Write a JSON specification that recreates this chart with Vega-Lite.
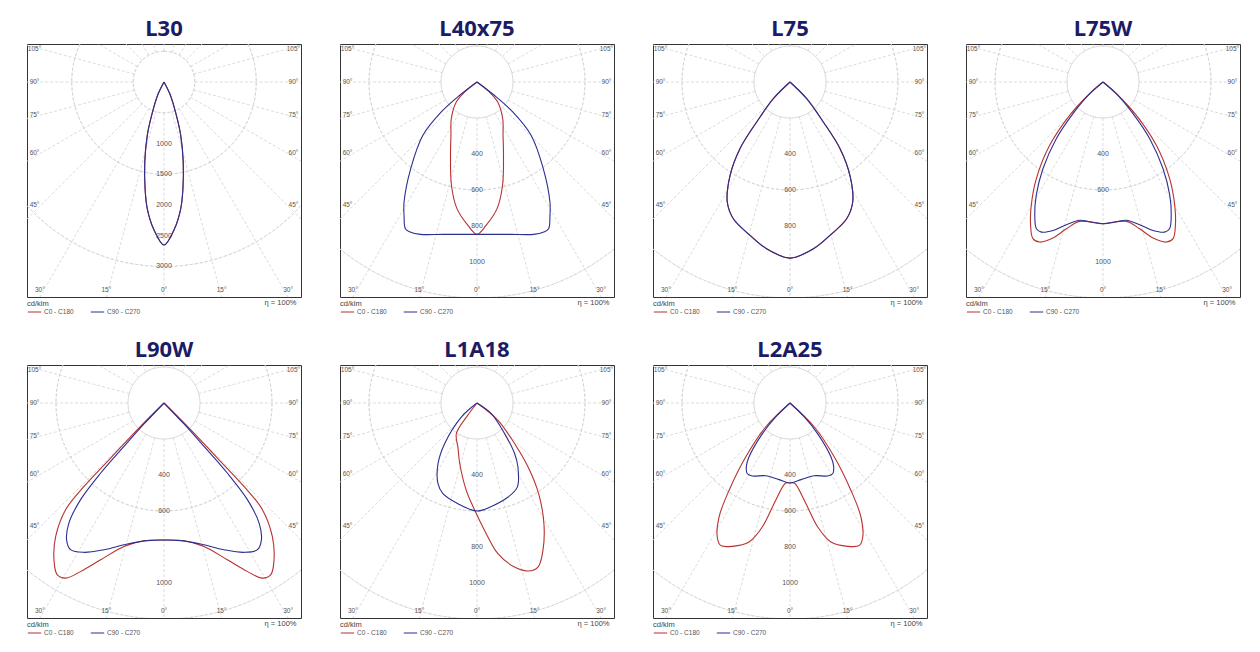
{
  "$schema": "https://vega.github.io/schema/vega-lite/v6.json",
  "background": "white",
  "padding": {"left": 26, "top": 17, "right": 5, "bottom": 5},
  "config": {
    "font": "Liberation Sans",
    "view": {"stroke": "#333", "strokeWidth": 1},
    "title": {"font": "Noto Sans", "fontSize": 22, "fontWeight": "bold", "color": "#1b1b66", "offset": 3},
    "axis": {"labels": false, "ticks": false, "domain": true, "domainOpacity": 0, "grid": false, "titleFontSize": 7.5, "titleFontWeight": "normal", "titleColor": "#444", "titleAnchor": "end", "titlePadding": 1, "titleX": 269},
    "legend": {"orient": "bottom", "direction": "horizontal", "titleFontSize": 7.5, "titleFontWeight": "normal", "titleColor": "#444", "labelFontSize": 6.5, "labelColor": "#555", "symbolType": "stroke", "symbolSize": 180, "symbolStrokeWidth": 1, "columnPadding": 14, "padding": 0, "offset": -6, "titlePadding": -3, "rowPadding": 0, "labelOffset": 2}
  },
  "datasets": {
    "curves": [
      {"p": "L30", "c": "C0 - C180", "g": [-90, -26, -21, -17.5, -13.5, -10, -7.5, -4, 0, 4, 7.5, 10, 13.5, 17.5, 21, 26, 90], "v": [0, 230, 520, 900, 1340, 1770, 2080, 2400, 2650, 2400, 2080, 1770, 1340, 900, 520, 230, 0]},
      {"p": "L30", "c": "C90 - C270", "g": [-90, -26, -21, -17.5, -13.5, -10, -7.5, -4, 0, 4, 7.5, 10, 13.5, 17.5, 21, 26, 90], "v": [0, 230, 520, 900, 1340, 1770, 2080, 2400, 2650, 2400, 2080, 1770, 1340, 900, 520, 230, 0]},
      {"p": "L40x75", "c": "C0 - C180", "g": [-90, -51, -46, -35, -26, -20.7, -13.9, -9, -3.6, 0, 3.6, 9, 13.9, 20.7, 26, 35, 46, 51, 90], "v": [0, 88, 160, 249, 330, 416, 591, 712, 798, 846, 798, 712, 591, 416, 330, 249, 160, 88, 0]},
      {"p": "L40x75", "c": "C90 - C270", "g": [-90, -52.4, -50, -45.4, -37.4, -31.3, -28.7, -26, -24, -20.4, -12.3, 0, 12.3, 20.4, 24, 26, 28.7, 31.3, 37.4, 45.4, 50, 52.4, 90], "v": [0, 121, 259, 422, 606, 780, 844, 907, 912, 903, 866, 846, 866, 903, 912, 907, 844, 780, 606, 422, 259, 121, 0]},
      {"p": "L75", "c": "C0 - C180", "g": [-90, -45, -39.8, -36.9, -32.7, -27.6, -22.5, -14.6, -8, 0, 8, 14.6, 22.5, 27.6, 32.7, 36.9, 39.8, 45, 90], "v": [0, 131, 289, 463, 616, 752, 822, 880, 935, 978, 935, 880, 822, 752, 616, 463, 289, 131, 0]},
      {"p": "L75", "c": "C90 - C270", "g": [-90, -45, -39.8, -36.9, -32.7, -27.6, -22.5, -14.6, -8, 0, 8, 14.6, 22.5, 27.6, 32.7, 36.9, 39.8, 45, 90], "v": [0, 131, 289, 463, 616, 752, 822, 880, 935, 978, 935, 880, 822, 752, 616, 463, 289, 131, 0]},
      {"p": "L75W", "c": "C0 - C180", "g": [-90, -48.4, -45, -40.1, -34.6, -30.2, -26.8, -24.1, -21.6, -17.8, -14, -9.5, 0, 9.5, 14, 17.8, 21.6, 24.1, 26.8, 30.2, 34.6, 40.1, 45, 48.4, 90], "v": [0, 111, 262, 460, 652, 792, 892, 953, 956, 910, 840, 785, 787, 785, 840, 910, 956, 953, 892, 792, 652, 460, 262, 111, 0]},
      {"p": "L75W", "c": "C90 - C270", "g": [-90, -48.8, -43.5, -39.5, -34.7, -30.5, -27.1, -24.4, -22.3, -18.6, -14.4, -9.6, -6.1, 0, 6.1, 9.6, 14.4, 18.6, 22.3, 24.4, 27.1, 30.5, 34.7, 39.5, 43.5, 48.8, 90], "v": [0, 98, 242, 408, 586, 731, 832, 895, 901, 870, 818, 779, 779, 787, 779, 779, 818, 870, 901, 895, 832, 731, 586, 408, 242, 98, 0]},
      {"p": "L90W", "c": "C0 - C180", "g": [-90, -45, -44.1, -43.8, -42.7, -39.1, -35.1, -31.9, -29.3, -26.3, -22, -15.6, -8.3, 0, 8.3, 15.6, 22, 26.3, 29.3, 31.9, 35.1, 39.1, 42.7, 43.8, 44.1, 45, 90], "v": [0, 209, 426, 642, 806, 954, 1063, 1123, 1115, 1043, 939, 827, 773, 761, 773, 827, 939, 1043, 1115, 1123, 1063, 954, 806, 642, 426, 209, 0]},
      {"p": "L90W", "c": "C90 - C270", "g": [-90, -43.6, -42.7, -42.1, -40.8, -38.4, -35.5, -32.5, -28.2, -22.2, -14.6, -6.9, 0, 6.9, 14.6, 22.2, 28.2, 32.5, 35.5, 38.4, 40.8, 42.1, 42.7, 43.6, 90], "v": [0, 161, 328, 524, 709, 850, 932, 966, 941, 880, 809, 770, 761, 770, 809, 880, 941, 966, 932, 850, 709, 524, 328, 161, 0]},
      {"p": "L1A18", "c": "C0 - C180", "g": [-90, -36.9, -34, -22.9, -16.1, -7, -1.2, 3.4, 7.9, 12.9, 16.9, 20.4, 24.1, 29, 34.2, 38.6, 42.8, 50.5, 90], "v": [0, 93, 205, 271, 347, 489, 596, 709, 845, 935, 975, 972, 897, 767, 609, 455, 308, 151, 0]},
      {"p": "L1A18", "c": "C90 - C270", "g": [-90, -48.2, -38.5, -32.7, -25.8, -20.6, -10.7, 0, 7.9, 18.3, 25.6, 32.6, 36.6, 42, 53.3, 90], "v": [0, 117, 289, 401, 498, 538, 569, 600, 580, 550, 518, 422, 351, 229, 99, 0]},
      {"p": "L2A25", "c": "C0 - C180", "g": [-90, -45.4, -39.4, -34.9, -31.9, -28.5, -26, -21.9, -16.4, -12.6, -8.4, -3.1, 0, 3.1, 8.4, 12.6, 16.4, 21.9, 26, 28.5, 31.9, 34.9, 39.4, 45.4, 90], "v": [0, 190, 388, 592, 746, 847, 880, 858, 805, 706, 547, 445, 444, 445, 547, 706, 805, 858, 880, 847, 746, 592, 388, 190, 0]},
      {"p": "L2A25", "c": "C90 - C270", "g": [-90, -45.7, -42, -37.2, -34.6, -31.1, -27.3, -18.5, -8.2, 0, 8.2, 18.5, 27.3, 31.1, 34.6, 37.2, 42, 45.7, 90], "v": [0, 111, 229, 377, 427, 459, 456, 426, 430, 444, 430, 426, 456, 459, 427, 377, 229, 111, 0]}
    ],
    "rings": [
      {"s": "w", "v": 500}, {"s": "w", "v": 1000}, {"s": "w", "v": 1500}, {"s": "w", "v": 2000},
      {"s": "w", "v": 2500}, {"s": "w", "v": 3000}, {"s": "w", "v": 3500}, {"s": "w", "v": 4000},
      {"s": "n", "v": 200}, {"s": "n", "v": 400}, {"s": "n", "v": 600}, {"s": "n", "v": 800},
      {"s": "n", "v": 1000}, {"s": "n", "v": 1200}, {"s": "n", "v": 1400}
    ],
    "rays": [
      {"a": 0}, {"a": 15}, {"a": 30}, {"a": 45}, {"a": 60}, {"a": 75}, {"a": 90}, {"a": 105},
      {"a": 120}, {"a": 135}, {"a": 150}, {"a": 165}, {"a": 180}, {"a": 195}, {"a": 210}, {"a": 225},
      {"a": 240}, {"a": 255}, {"a": 270}, {"a": 285}, {"a": 300}, {"a": 315}, {"a": 330}, {"a": 345}
    ],
    "vlabels": [
      {"p": "L30", "v": 1000}, {"p": "L30", "v": 1500}, {"p": "L30", "v": 2000}, {"p": "L30", "v": 2500}, {"p": "L30", "v": 3000},
      {"p": "L40x75", "v": 400}, {"p": "L40x75", "v": 600}, {"p": "L40x75", "v": 800}, {"p": "L40x75", "v": 1000},
      {"p": "L75", "v": 400}, {"p": "L75", "v": 600}, {"p": "L75", "v": 800},
      {"p": "L75W", "v": 400}, {"p": "L75W", "v": 600}, {"p": "L75W", "v": 1000},
      {"p": "L90W", "v": 400}, {"p": "L90W", "v": 600}, {"p": "L90W", "v": 1000},
      {"p": "L1A18", "v": 400}, {"p": "L1A18", "v": 800}, {"p": "L1A18", "v": 1000},
      {"p": "L2A25", "v": 400}, {"p": "L2A25", "v": 600}, {"p": "L2A25", "v": 800}, {"p": "L2A25", "v": 1000}
    ],
    "alabels": [
      {"a": -105, "t": "105°", "k": "s"}, {"a": -90, "t": "90°", "k": "s"}, {"a": -75, "t": "75°", "k": "s"}, {"a": -60, "t": "60°", "k": "s"}, {"a": -45, "t": "45°", "k": "s"},
      {"a": 105, "t": "105°", "k": "s"}, {"a": 90, "t": "90°", "k": "s"}, {"a": 75, "t": "75°", "k": "s"}, {"a": 60, "t": "60°", "k": "s"}, {"a": 45, "t": "45°", "k": "s"},
      {"a": -30, "t": "30°", "k": "b"}, {"a": -15, "t": "15°", "k": "b"}, {"a": 0, "t": "0°", "k": "b"}, {"a": 15, "t": "15°", "k": "b"}, {"a": 30, "t": "30°", "k": "b"}
    ]
  },
  "resolve": {"scale": {"x": "independent", "y": "independent", "color": "independent", "radius": "independent"}, "legend": {"color": "independent"}},
  "spacing": 21,
  "vconcat": [
    {
      "spacing": 37,
      "resolve": {"scale": {"x": "independent", "y": "independent", "color": "independent", "radius": "independent"}, "legend": {"color": "independent"}},
      "hconcat": [
        {
          "title": "L30", "width": 274, "height": 253,
          "layer": [
            {"data": {"name": "rings"}, "transform": [{"filter": "datum.s == 'w'"}],
             "mark": {"type": "arc", "theta": 0, "theta2": 6.2832, "filled": false, "stroke": "#d2d2d2", "strokeWidth": 0.8, "strokeDash": [3, 2], "clip": true},
             "encoding": {
               "x": {"datum": 0, "type": "quantitative", "scale": {"domain": [-2228, 2228], "nice": false}, "axis": {"title": "η = 100%"}},
               "y": {"datum": 0, "type": "quantitative", "scale": {"domain": [-3496, 618], "nice": false}, "axis": null},
               "radius": {"field": "v", "type": "quantitative", "scale": {"type": "linear", "domain": [0, 1000], "range": [0, 61.5]}, "legend": null}}},
            {"data": {"name": "rays"},
             "transform": [{"calculate": "500*sin(datum.a*PI/180)", "as": "x1"}, {"calculate": "-500*cos(datum.a*PI/180)", "as": "y1"}, {"calculate": "15000*sin(datum.a*PI/180)", "as": "x2"}, {"calculate": "-15000*cos(datum.a*PI/180)", "as": "y2"}],
             "mark": {"type": "rule", "stroke": "#d2d2d2", "strokeWidth": 0.8, "strokeDash": [3, 2], "clip": true},
             "encoding": {"x": {"field": "x1", "type": "quantitative", "title": "η = 100%"}, "y": {"field": "y1", "type": "quantitative", "axis": null}, "x2": {"field": "x2"}, "y2": {"field": "y2"}}},
            {"data": {"name": "vlabels"}, "transform": [{"filter": "datum.p == 'L30'"}, {"calculate": "-datum.v", "as": "y"}],
             "mark": {"type": "text", "fontSize": 7, "color": "#555"},
             "encoding": {"x": {"datum": 0, "type": "quantitative", "title": "η = 100%"}, "y": {"field": "y", "type": "quantitative", "axis": null}, "text": {"field": "v", "type": "quantitative", "format": "d"}}},
            {"data": {"name": "alabels"},
             "transform": [{"calculate": "datum.k == 's' ? (datum.a < 0 ? -2105 : 2105) : 3496*tan(datum.a*PI/180)", "as": "x"}, {"calculate": "datum.k == 's' ? -2005*cos(datum.a*PI/180)/abs(sin(datum.a*PI/180)) : -3381", "as": "y"}],
             "mark": {"type": "text", "fontSize": 6.5, "color": "#555"},
             "encoding": {"x": {"field": "x", "type": "quantitative", "title": "η = 100%"}, "y": {"field": "y", "type": "quantitative", "axis": null}, "text": {"field": "t"}}},
            {"data": {"name": "curves"},
             "transform": [{"filter": "datum.p == 'L30'"}, {"flatten": ["g", "v"]}, {"calculate": "datum.v*sin(datum.g*PI/180)", "as": "x"}, {"calculate": "-datum.v*cos(datum.g*PI/180)", "as": "y"}],
             "mark": {"type": "line", "strokeWidth": 1.1, "interpolate": "catmull-rom", "clip": true},
             "encoding": {
               "x": {"field": "x", "type": "quantitative", "title": "η = 100%"},
               "y": {"field": "y", "type": "quantitative", "axis": null},
               "order": {"field": "g", "type": "quantitative"},
               "color": {"field": "c", "type": "nominal", "scale": {"domain": ["C0 - C180", "C90 - C270"], "range": ["#b8312f", "#2b2f8f"]}, "legend": {"title": "cd/klm"}}}}
          ]
        },
        {
          "title": "L40x75", "width": 274, "height": 253,
          "layer": [
            {"data": {"name": "rings"}, "transform": [{"filter": "datum.s == 'n'"}],
             "mark": {"type": "arc", "theta": 0, "theta2": 6.2832, "filled": false, "stroke": "#d2d2d2", "strokeWidth": 0.8, "strokeDash": [3, 2], "clip": true},
             "encoding": {
               "x": {"datum": 0, "type": "quantitative", "scale": {"domain": [-761, 761], "nice": false}, "axis": {"title": "η = 100%"}},
               "y": {"datum": 0, "type": "quantitative", "scale": {"domain": [-1194, 211], "nice": false}, "axis": null},
               "radius": {"field": "v", "type": "quantitative", "scale": {"type": "linear", "domain": [0, 1000], "range": [0, 180]}, "legend": null}}},
            {"data": {"name": "rays"},
             "transform": [{"calculate": "200*sin(datum.a*PI/180)", "as": "x1"}, {"calculate": "-200*cos(datum.a*PI/180)", "as": "y1"}, {"calculate": "5000*sin(datum.a*PI/180)", "as": "x2"}, {"calculate": "-5000*cos(datum.a*PI/180)", "as": "y2"}],
             "mark": {"type": "rule", "stroke": "#d2d2d2", "strokeWidth": 0.8, "strokeDash": [3, 2], "clip": true},
             "encoding": {"x": {"field": "x1", "type": "quantitative", "title": "η = 100%"}, "y": {"field": "y1", "type": "quantitative", "axis": null}, "x2": {"field": "x2"}, "y2": {"field": "y2"}}},
            {"data": {"name": "vlabels"}, "transform": [{"filter": "datum.p == 'L40x75'"}, {"calculate": "-datum.v", "as": "y"}],
             "mark": {"type": "text", "fontSize": 7, "color": "#555"},
             "encoding": {"x": {"datum": 0, "type": "quantitative", "title": "η = 100%"}, "y": {"field": "y", "type": "quantitative", "axis": null}, "text": {"field": "v", "type": "quantitative", "format": "d"}}},
            {"data": {"name": "alabels"},
             "transform": [{"calculate": "datum.k == 's' ? (datum.a < 0 ? -719 : 719) : 1194*tan(datum.a*PI/180)", "as": "x"}, {"calculate": "datum.k == 's' ? -685*cos(datum.a*PI/180)/abs(sin(datum.a*PI/180)) : -1155", "as": "y"}],
             "mark": {"type": "text", "fontSize": 6.5, "color": "#555"},
             "encoding": {"x": {"field": "x", "type": "quantitative", "title": "η = 100%"}, "y": {"field": "y", "type": "quantitative", "axis": null}, "text": {"field": "t"}}},
            {"data": {"name": "curves"},
             "transform": [{"filter": "datum.p == 'L40x75'"}, {"flatten": ["g", "v"]}, {"calculate": "datum.v*sin(datum.g*PI/180)", "as": "x"}, {"calculate": "-datum.v*cos(datum.g*PI/180)", "as": "y"}],
             "mark": {"type": "line", "strokeWidth": 1.1, "interpolate": "catmull-rom", "clip": true},
             "encoding": {
               "x": {"field": "x", "type": "quantitative", "title": "η = 100%"},
               "y": {"field": "y", "type": "quantitative", "axis": null},
               "order": {"field": "g", "type": "quantitative"},
               "color": {"field": "c", "type": "nominal", "scale": {"domain": ["C0 - C180", "C90 - C270"], "range": ["#b8312f", "#2b2f8f"]}, "legend": {"title": "cd/klm"}}}}
          ]
        },
        {
          "title": "L75", "width": 274, "height": 253,
          "layer": [
            {"data": {"name": "rings"}, "transform": [{"filter": "datum.s == 'n'"}],
             "mark": {"type": "arc", "theta": 0, "theta2": 6.2832, "filled": false, "stroke": "#d2d2d2", "strokeWidth": 0.8, "strokeDash": [3, 2], "clip": true},
             "encoding": {
               "x": {"datum": 0, "type": "quantitative", "scale": {"domain": [-761, 761], "nice": false}, "axis": {"title": "η = 100%"}},
               "y": {"datum": 0, "type": "quantitative", "scale": {"domain": [-1194, 211], "nice": false}, "axis": null},
               "radius": {"field": "v", "type": "quantitative", "scale": {"type": "linear", "domain": [0, 1000], "range": [0, 180]}, "legend": null}}},
            {"data": {"name": "rays"},
             "transform": [{"calculate": "200*sin(datum.a*PI/180)", "as": "x1"}, {"calculate": "-200*cos(datum.a*PI/180)", "as": "y1"}, {"calculate": "5000*sin(datum.a*PI/180)", "as": "x2"}, {"calculate": "-5000*cos(datum.a*PI/180)", "as": "y2"}],
             "mark": {"type": "rule", "stroke": "#d2d2d2", "strokeWidth": 0.8, "strokeDash": [3, 2], "clip": true},
             "encoding": {"x": {"field": "x1", "type": "quantitative", "title": "η = 100%"}, "y": {"field": "y1", "type": "quantitative", "axis": null}, "x2": {"field": "x2"}, "y2": {"field": "y2"}}},
            {"data": {"name": "vlabels"}, "transform": [{"filter": "datum.p == 'L75'"}, {"calculate": "-datum.v", "as": "y"}],
             "mark": {"type": "text", "fontSize": 7, "color": "#555"},
             "encoding": {"x": {"datum": 0, "type": "quantitative", "title": "η = 100%"}, "y": {"field": "y", "type": "quantitative", "axis": null}, "text": {"field": "v", "type": "quantitative", "format": "d"}}},
            {"data": {"name": "alabels"},
             "transform": [{"calculate": "datum.k == 's' ? (datum.a < 0 ? -719 : 719) : 1194*tan(datum.a*PI/180)", "as": "x"}, {"calculate": "datum.k == 's' ? -685*cos(datum.a*PI/180)/abs(sin(datum.a*PI/180)) : -1155", "as": "y"}],
             "mark": {"type": "text", "fontSize": 6.5, "color": "#555"},
             "encoding": {"x": {"field": "x", "type": "quantitative", "title": "η = 100%"}, "y": {"field": "y", "type": "quantitative", "axis": null}, "text": {"field": "t"}}},
            {"data": {"name": "curves"},
             "transform": [{"filter": "datum.p == 'L75'"}, {"flatten": ["g", "v"]}, {"calculate": "datum.v*sin(datum.g*PI/180)", "as": "x"}, {"calculate": "-datum.v*cos(datum.g*PI/180)", "as": "y"}],
             "mark": {"type": "line", "strokeWidth": 1.1, "interpolate": "catmull-rom", "clip": true},
             "encoding": {
               "x": {"field": "x", "type": "quantitative", "title": "η = 100%"},
               "y": {"field": "y", "type": "quantitative", "axis": null},
               "order": {"field": "g", "type": "quantitative"},
               "color": {"field": "c", "type": "nominal", "scale": {"domain": ["C0 - C180", "C90 - C270"], "range": ["#b8312f", "#2b2f8f"]}, "legend": {"title": "cd/klm"}}}}
          ]
        },
        {
          "title": "L75W", "width": 274, "height": 253,
          "layer": [
            {"data": {"name": "rings"}, "transform": [{"filter": "datum.s == 'n'"}],
             "mark": {"type": "arc", "theta": 0, "theta2": 6.2832, "filled": false, "stroke": "#d2d2d2", "strokeWidth": 0.8, "strokeDash": [3, 2], "clip": true},
             "encoding": {
               "x": {"datum": 0, "type": "quantitative", "scale": {"domain": [-761, 761], "nice": false}, "axis": {"title": "η = 100%"}},
               "y": {"datum": 0, "type": "quantitative", "scale": {"domain": [-1194, 211], "nice": false}, "axis": null},
               "radius": {"field": "v", "type": "quantitative", "scale": {"type": "linear", "domain": [0, 1000], "range": [0, 180]}, "legend": null}}},
            {"data": {"name": "rays"},
             "transform": [{"calculate": "200*sin(datum.a*PI/180)", "as": "x1"}, {"calculate": "-200*cos(datum.a*PI/180)", "as": "y1"}, {"calculate": "5000*sin(datum.a*PI/180)", "as": "x2"}, {"calculate": "-5000*cos(datum.a*PI/180)", "as": "y2"}],
             "mark": {"type": "rule", "stroke": "#d2d2d2", "strokeWidth": 0.8, "strokeDash": [3, 2], "clip": true},
             "encoding": {"x": {"field": "x1", "type": "quantitative", "title": "η = 100%"}, "y": {"field": "y1", "type": "quantitative", "axis": null}, "x2": {"field": "x2"}, "y2": {"field": "y2"}}},
            {"data": {"name": "vlabels"}, "transform": [{"filter": "datum.p == 'L75W'"}, {"calculate": "-datum.v", "as": "y"}],
             "mark": {"type": "text", "fontSize": 7, "color": "#555"},
             "encoding": {"x": {"datum": 0, "type": "quantitative", "title": "η = 100%"}, "y": {"field": "y", "type": "quantitative", "axis": null}, "text": {"field": "v", "type": "quantitative", "format": "d"}}},
            {"data": {"name": "alabels"},
             "transform": [{"calculate": "datum.k == 's' ? (datum.a < 0 ? -719 : 719) : 1194*tan(datum.a*PI/180)", "as": "x"}, {"calculate": "datum.k == 's' ? -685*cos(datum.a*PI/180)/abs(sin(datum.a*PI/180)) : -1155", "as": "y"}],
             "mark": {"type": "text", "fontSize": 6.5, "color": "#555"},
             "encoding": {"x": {"field": "x", "type": "quantitative", "title": "η = 100%"}, "y": {"field": "y", "type": "quantitative", "axis": null}, "text": {"field": "t"}}},
            {"data": {"name": "curves"},
             "transform": [{"filter": "datum.p == 'L75W'"}, {"flatten": ["g", "v"]}, {"calculate": "datum.v*sin(datum.g*PI/180)", "as": "x"}, {"calculate": "-datum.v*cos(datum.g*PI/180)", "as": "y"}],
             "mark": {"type": "line", "strokeWidth": 1.1, "interpolate": "catmull-rom", "clip": true},
             "encoding": {
               "x": {"field": "x", "type": "quantitative", "title": "η = 100%"},
               "y": {"field": "y", "type": "quantitative", "axis": null},
               "order": {"field": "g", "type": "quantitative"},
               "color": {"field": "c", "type": "nominal", "scale": {"domain": ["C0 - C180", "C90 - C270"], "range": ["#b8312f", "#2b2f8f"]}, "legend": {"title": "cd/klm"}}}}
          ]
        }
      ]
    },
    {
      "spacing": 37,
      "resolve": {"scale": {"x": "independent", "y": "independent", "color": "independent", "radius": "independent"}, "legend": {"color": "independent"}},
      "hconcat": [
        {
          "title": "L90W", "width": 274, "height": 253,
          "layer": [
            {"data": {"name": "rings"}, "transform": [{"filter": "datum.s == 'n'"}],
             "mark": {"type": "arc", "theta": 0, "theta2": 6.2832, "filled": false, "stroke": "#d2d2d2", "strokeWidth": 0.8, "strokeDash": [3, 2], "clip": true},
             "encoding": {
               "x": {"datum": 0, "type": "quantitative", "scale": {"domain": [-761, 761], "nice": false}, "axis": {"title": "η = 100%"}},
               "y": {"datum": 0, "type": "quantitative", "scale": {"domain": [-1194, 211], "nice": false}, "axis": null},
               "radius": {"field": "v", "type": "quantitative", "scale": {"type": "linear", "domain": [0, 1000], "range": [0, 180]}, "legend": null}}},
            {"data": {"name": "rays"},
             "transform": [{"calculate": "200*sin(datum.a*PI/180)", "as": "x1"}, {"calculate": "-200*cos(datum.a*PI/180)", "as": "y1"}, {"calculate": "5000*sin(datum.a*PI/180)", "as": "x2"}, {"calculate": "-5000*cos(datum.a*PI/180)", "as": "y2"}],
             "mark": {"type": "rule", "stroke": "#d2d2d2", "strokeWidth": 0.8, "strokeDash": [3, 2], "clip": true},
             "encoding": {"x": {"field": "x1", "type": "quantitative", "title": "η = 100%"}, "y": {"field": "y1", "type": "quantitative", "axis": null}, "x2": {"field": "x2"}, "y2": {"field": "y2"}}},
            {"data": {"name": "vlabels"}, "transform": [{"filter": "datum.p == 'L90W'"}, {"calculate": "-datum.v", "as": "y"}],
             "mark": {"type": "text", "fontSize": 7, "color": "#555"},
             "encoding": {"x": {"datum": 0, "type": "quantitative", "title": "η = 100%"}, "y": {"field": "y", "type": "quantitative", "axis": null}, "text": {"field": "v", "type": "quantitative", "format": "d"}}},
            {"data": {"name": "alabels"},
             "transform": [{"calculate": "datum.k == 's' ? (datum.a < 0 ? -719 : 719) : 1194*tan(datum.a*PI/180)", "as": "x"}, {"calculate": "datum.k == 's' ? -685*cos(datum.a*PI/180)/abs(sin(datum.a*PI/180)) : -1155", "as": "y"}],
             "mark": {"type": "text", "fontSize": 6.5, "color": "#555"},
             "encoding": {"x": {"field": "x", "type": "quantitative", "title": "η = 100%"}, "y": {"field": "y", "type": "quantitative", "axis": null}, "text": {"field": "t"}}},
            {"data": {"name": "curves"},
             "transform": [{"filter": "datum.p == 'L90W'"}, {"flatten": ["g", "v"]}, {"calculate": "datum.v*sin(datum.g*PI/180)", "as": "x"}, {"calculate": "-datum.v*cos(datum.g*PI/180)", "as": "y"}],
             "mark": {"type": "line", "strokeWidth": 1.1, "interpolate": "catmull-rom", "clip": true},
             "encoding": {
               "x": {"field": "x", "type": "quantitative", "title": "η = 100%"},
               "y": {"field": "y", "type": "quantitative", "axis": null},
               "order": {"field": "g", "type": "quantitative"},
               "color": {"field": "c", "type": "nominal", "scale": {"domain": ["C0 - C180", "C90 - C270"], "range": ["#b8312f", "#2b2f8f"]}, "legend": {"title": "cd/klm"}}}}
          ]
        },
        {
          "title": "L1A18", "width": 274, "height": 253,
          "layer": [
            {"data": {"name": "rings"}, "transform": [{"filter": "datum.s == 'n'"}],
             "mark": {"type": "arc", "theta": 0, "theta2": 6.2832, "filled": false, "stroke": "#d2d2d2", "strokeWidth": 0.8, "strokeDash": [3, 2], "clip": true},
             "encoding": {
               "x": {"datum": 0, "type": "quantitative", "scale": {"domain": [-761, 761], "nice": false}, "axis": {"title": "η = 100%"}},
               "y": {"datum": 0, "type": "quantitative", "scale": {"domain": [-1194, 211], "nice": false}, "axis": null},
               "radius": {"field": "v", "type": "quantitative", "scale": {"type": "linear", "domain": [0, 1000], "range": [0, 180]}, "legend": null}}},
            {"data": {"name": "rays"},
             "transform": [{"calculate": "200*sin(datum.a*PI/180)", "as": "x1"}, {"calculate": "-200*cos(datum.a*PI/180)", "as": "y1"}, {"calculate": "5000*sin(datum.a*PI/180)", "as": "x2"}, {"calculate": "-5000*cos(datum.a*PI/180)", "as": "y2"}],
             "mark": {"type": "rule", "stroke": "#d2d2d2", "strokeWidth": 0.8, "strokeDash": [3, 2], "clip": true},
             "encoding": {"x": {"field": "x1", "type": "quantitative", "title": "η = 100%"}, "y": {"field": "y1", "type": "quantitative", "axis": null}, "x2": {"field": "x2"}, "y2": {"field": "y2"}}},
            {"data": {"name": "vlabels"}, "transform": [{"filter": "datum.p == 'L1A18'"}, {"calculate": "-datum.v", "as": "y"}],
             "mark": {"type": "text", "fontSize": 7, "color": "#555"},
             "encoding": {"x": {"datum": 0, "type": "quantitative", "title": "η = 100%"}, "y": {"field": "y", "type": "quantitative", "axis": null}, "text": {"field": "v", "type": "quantitative", "format": "d"}}},
            {"data": {"name": "alabels"},
             "transform": [{"calculate": "datum.k == 's' ? (datum.a < 0 ? -719 : 719) : 1194*tan(datum.a*PI/180)", "as": "x"}, {"calculate": "datum.k == 's' ? -685*cos(datum.a*PI/180)/abs(sin(datum.a*PI/180)) : -1155", "as": "y"}],
             "mark": {"type": "text", "fontSize": 6.5, "color": "#555"},
             "encoding": {"x": {"field": "x", "type": "quantitative", "title": "η = 100%"}, "y": {"field": "y", "type": "quantitative", "axis": null}, "text": {"field": "t"}}},
            {"data": {"name": "curves"},
             "transform": [{"filter": "datum.p == 'L1A18'"}, {"flatten": ["g", "v"]}, {"calculate": "datum.v*sin(datum.g*PI/180)", "as": "x"}, {"calculate": "-datum.v*cos(datum.g*PI/180)", "as": "y"}],
             "mark": {"type": "line", "strokeWidth": 1.1, "interpolate": "catmull-rom", "clip": true},
             "encoding": {
               "x": {"field": "x", "type": "quantitative", "title": "η = 100%"},
               "y": {"field": "y", "type": "quantitative", "axis": null},
               "order": {"field": "g", "type": "quantitative"},
               "color": {"field": "c", "type": "nominal", "scale": {"domain": ["C0 - C180", "C90 - C270"], "range": ["#b8312f", "#2b2f8f"]}, "legend": {"title": "cd/klm"}}}}
          ]
        },
        {
          "title": "L2A25", "width": 274, "height": 253,
          "layer": [
            {"data": {"name": "rings"}, "transform": [{"filter": "datum.s == 'n'"}],
             "mark": {"type": "arc", "theta": 0, "theta2": 6.2832, "filled": false, "stroke": "#d2d2d2", "strokeWidth": 0.8, "strokeDash": [3, 2], "clip": true},
             "encoding": {
               "x": {"datum": 0, "type": "quantitative", "scale": {"domain": [-761, 761], "nice": false}, "axis": {"title": "η = 100%"}},
               "y": {"datum": 0, "type": "quantitative", "scale": {"domain": [-1194, 211], "nice": false}, "axis": null},
               "radius": {"field": "v", "type": "quantitative", "scale": {"type": "linear", "domain": [0, 1000], "range": [0, 180]}, "legend": null}}},
            {"data": {"name": "rays"},
             "transform": [{"calculate": "200*sin(datum.a*PI/180)", "as": "x1"}, {"calculate": "-200*cos(datum.a*PI/180)", "as": "y1"}, {"calculate": "5000*sin(datum.a*PI/180)", "as": "x2"}, {"calculate": "-5000*cos(datum.a*PI/180)", "as": "y2"}],
             "mark": {"type": "rule", "stroke": "#d2d2d2", "strokeWidth": 0.8, "strokeDash": [3, 2], "clip": true},
             "encoding": {"x": {"field": "x1", "type": "quantitative", "title": "η = 100%"}, "y": {"field": "y1", "type": "quantitative", "axis": null}, "x2": {"field": "x2"}, "y2": {"field": "y2"}}},
            {"data": {"name": "vlabels"}, "transform": [{"filter": "datum.p == 'L2A25'"}, {"calculate": "-datum.v", "as": "y"}],
             "mark": {"type": "text", "fontSize": 7, "color": "#555"},
             "encoding": {"x": {"datum": 0, "type": "quantitative", "title": "η = 100%"}, "y": {"field": "y", "type": "quantitative", "axis": null}, "text": {"field": "v", "type": "quantitative", "format": "d"}}},
            {"data": {"name": "alabels"},
             "transform": [{"calculate": "datum.k == 's' ? (datum.a < 0 ? -719 : 719) : 1194*tan(datum.a*PI/180)", "as": "x"}, {"calculate": "datum.k == 's' ? -685*cos(datum.a*PI/180)/abs(sin(datum.a*PI/180)) : -1155", "as": "y"}],
             "mark": {"type": "text", "fontSize": 6.5, "color": "#555"},
             "encoding": {"x": {"field": "x", "type": "quantitative", "title": "η = 100%"}, "y": {"field": "y", "type": "quantitative", "axis": null}, "text": {"field": "t"}}},
            {"data": {"name": "curves"},
             "transform": [{"filter": "datum.p == 'L2A25'"}, {"flatten": ["g", "v"]}, {"calculate": "datum.v*sin(datum.g*PI/180)", "as": "x"}, {"calculate": "-datum.v*cos(datum.g*PI/180)", "as": "y"}],
             "mark": {"type": "line", "strokeWidth": 1.1, "interpolate": "catmull-rom", "clip": true},
             "encoding": {
               "x": {"field": "x", "type": "quantitative", "title": "η = 100%"},
               "y": {"field": "y", "type": "quantitative", "axis": null},
               "order": {"field": "g", "type": "quantitative"},
               "color": {"field": "c", "type": "nominal", "scale": {"domain": ["C0 - C180", "C90 - C270"], "range": ["#b8312f", "#2b2f8f"]}, "legend": {"title": "cd/klm"}}}}
          ]
        }
      ]
    }
  ]
}
